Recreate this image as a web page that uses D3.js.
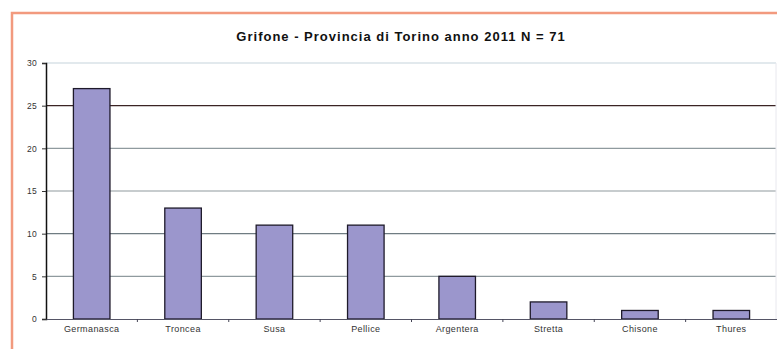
<!DOCTYPE html>
<html>
<head>
<meta charset="utf-8">
<script src="https://cdn.jsdelivr.net/npm/d3@7"></script>
<style>
  body { margin: 0; background: #fff; }
  svg { display: block; font-family: "Liberation Sans", Arial, sans-serif; }
</style>
</head>
<body>
<svg id="chart" width="777" height="349"></svg>
<script>
const valli = ["Germanasca", "Troncea", "Susa", "Pellice", "Argentera", "Stretta", "Chisone", "Thures"];
const avvistamenti = [27, 13, 11, 11, 5, 2, 1, 1];
const yTicks = [0, 5, 10, 15, 20, 25, 30];
const titolo = "Grifone - Provincia di Torino anno 2011 N = 71";

const svg = d3.select("#chart");
const plotL = 46, plotR = 777, plotT = 63, plotB = 319;

// salmon frame (left + top)
svg.append("path")
  .attr("d", "M12,349 L12,13 L777,13")
  .attr("fill", "none")
  .attr("stroke", "#f29a7e")
  .attr("stroke-width", 2.5);

svg.append("text")
  .attr("x", 401).attr("y", 41)
  .attr("text-anchor", "middle")
  .attr("font-weight", "bold")
  .attr("font-size", 13)
  .attr("letter-spacing", 1)
  .attr("fill", "#111")
  .text(titolo);

const x = d3.scaleBand().domain(valli).range([plotL, plotR]).paddingInner(0.6).paddingOuter(0.3);
const y = d3.scaleLinear().domain([0, 30]).range([plotB, plotT]);

// gridlines
const gridColor = d => d === 25 ? "#3b2424" : d === 30 ? "#c6d4dc" : d === 10 ? "#6f7c82" : "#8f9a9e";
svg.append("g").selectAll("line")
  .data(yTicks.filter(d => d > 0))
  .join("line")
  .attr("x1", plotL).attr("x2", plotR - 1)
  .attr("y1", d => y(d)).attr("y2", d => y(d))
  .attr("stroke", gridColor)
  .attr("stroke-width", 1.2);

// right edge of plot area
svg.append("line")
  .attr("x1", plotR - 1).attr("x2", plotR - 1)
  .attr("y1", plotT).attr("y2", plotB)
  .attr("stroke", "#e8e8ee");

// bars
svg.append("g").selectAll("rect")
  .data(avvistamenti)
  .join("rect")
  .attr("x", (d, i) => x(valli[i]))
  .attr("width", x.bandwidth())
  .attr("y", d => y(d))
  .attr("height", d => y(0) - y(d))
  .attr("fill", "#9b96cc")
  .attr("stroke", "#1e1a2a")
  .attr("stroke-width", 1.3);

// y axis
const yAxis = svg.append("g")
  .attr("transform", `translate(${plotL},0)`)
  .call(d3.axisLeft(y).tickValues(yTicks).tickSize(4).tickPadding(5));
yAxis.select(".domain").attr("stroke", "#111").attr("stroke-width", 1.5);
yAxis.selectAll(".tick line").attr("stroke", "#333");
yAxis.selectAll("text").attr("font-size", 8.5).attr("letter-spacing", 0.3).attr("fill", "#333").attr("font-family", "Liberation Sans, Arial, sans-serif");

// x axis
const xAxis = svg.append("g")
  .attr("transform", `translate(0,${plotB})`)
  .call(d3.axisBottom(x).tickSize(0).tickPadding(7));
xAxis.select(".domain").attr("stroke", "#556").attr("stroke-width", 1.2);
xAxis.selectAll("text").attr("font-size", 9).attr("letter-spacing", 0.4).attr("fill", "#333").attr("font-family", "Liberation Sans, Arial, sans-serif");

// tick marks between categories
const step = x.step();
svg.append("g").selectAll("line")
  .data(valli.slice(1))
  .join("line")
  .attr("x1", d => x(d) - (step - x.bandwidth()) / 2)
  .attr("x2", d => x(d) - (step - x.bandwidth()) / 2)
  .attr("y1", plotB).attr("y2", plotB + 3)
  .attr("stroke", "#445");
</script>
</body>
</html>
